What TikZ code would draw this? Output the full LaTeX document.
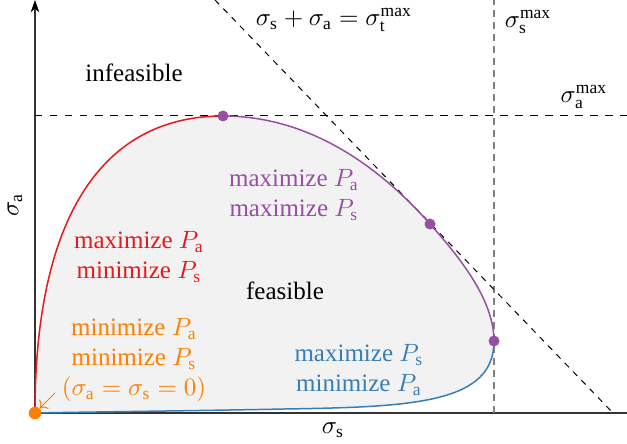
\documentclass[tikz,border=0pt]{standalone}
\usepackage{amsmath}
\usepackage{fontspec}
\setmainfont{Liberation Serif}
\usetikzlibrary{arrows.meta,positioning}
\definecolor{setred}{RGB}{228,26,28}
\definecolor{setblue}{RGB}{55,126,184}
\definecolor{setpurple}{RGB}{152,78,163}
\definecolor{setorange}{RGB}{255,127,0}
\definecolor{feasgray}{RGB}{242,242,242}

\begin{document}
\begin{tikzpicture}[
        x=0.4pt, y=0.4pt,
        lbl/.style={align=center},
        dot/.style={circle, fill, inner sep=0pt, minimum size=4.4pt},
        guide/.style={dashed, thin},
        limit/.style={dashed, gray, line width=0.8pt, dash pattern=on 2.8pt off 2pt},
        axis/.style={line width=0.5pt, black!80},
        front/.style={semithick}
      ]
        \useasboundingbox (-35,-31) rectangle (592,413);
        \coordinate (O) at (0,0);
        \coordinate (xend) at (592,0);
        \coordinate (yend) at (0,413);
        \coordinate (top) at (188,297);
        \coordinate (mid) at (395,189);
        \coordinate (right) at (459,72);
        \fill[feasgray] (O) .. controls (0,200) and (70,297) .. (top)
          .. controls (280,297) and (350,240) .. (mid)
          .. controls (430,150) and (459,110) .. (right)
          .. controls (459,10) and (380,6) .. (250,4)
          .. controls (150,2) and (50,1) .. (O) -- cycle;
        % axes and limits
        \draw[axis] (O) -- (xend);
        \draw[axis, -{Stealth[length=5pt, width=3.5pt, black]}] (O) -- (yend);
        \coordinate (amaxl) at (0,297);
        \coordinate (amaxr) at (592,297);
        \coordinate (smaxb) at (459,0);
        \coordinate (smaxt) at (459,413);
        \coordinate (tmaxt) at (180,413);
        \coordinate (tmaxb) at (578,0);
        \draw[guide] (amaxl) -- (amaxr);
        \draw[limit] (smaxb) -- (smaxt);
        \draw[guide, dash pattern=on 2.4pt off 2.4pt] (tmaxt) -- (tmaxb);
        % pareto front
        \draw[front, setred] (O) .. controls (0,200) and (70,297) .. (top);
        \draw[front, setpurple] (top) .. controls (280,297) and (350,240) .. (mid)
          .. controls (430,150) and (459,110) .. (right);
        \draw[front, setblue] (right) .. controls (459,10) and (380,6) .. (250,4)
          .. controls (150,2) and (50,1) .. (O);
        \node[dot, setpurple] (ptop) at (top) {};
        \node[dot, setpurple] (pmid) at (mid) {};
        \node[dot, setpurple] (pright) at (right) {};
        \node[dot, setorange, minimum size=5pt] (porig) at (O) {};
        % labels
        \node (infeas) at (99,340) {infeasible};
        \node (feas) at (250,122) {feasible};
        \node (diag) at (299,393) {$\sigma_\mathrm{s}+\sigma_\mathrm{a}=\sigma_\mathrm{t}^\mathrm{max}$};
        \node[anchor=west] (smax) at (461,391) {$\sigma_\mathrm{s}^\mathrm{max}$};
        \node (amax) at (549,316) {$\sigma_\mathrm{a}^\mathrm{max}$};
        \node[rotate=90] (ylab) at (-20,208) {$\sigma_\mathrm{a}$};
        \node (xlab) at (298,-17) {$\sigma_\mathrm{s}$};
        \node[lbl, text=setpurple] (purtxt) at (259,218) {maximize $P_\mathrm{a}$\\maximize $P_\mathrm{s}$};
        \node[lbl, text=setred] (redtxt) at (104,156) {maximize $P_\mathrm{a}$\\minimize $P_\mathrm{s}$};
        \node[lbl, text=setorange] (orgtxt) at (99,53) {minimize $P_\mathrm{a}$\\minimize $P_\mathrm{s}$\\$(\sigma_\mathrm{a}=\sigma_\mathrm{s}=0)$};
        \node[lbl, text=setblue] (blutxt) at (324,43) {maximize $P_\mathrm{s}$\\minimize $P_\mathrm{a}$};
        \coordinate (orgarr) at (20,20);
        \draw[->, setorange, thin] (orgarr) -- (porig);
      \end{tikzpicture}
\end{document}
